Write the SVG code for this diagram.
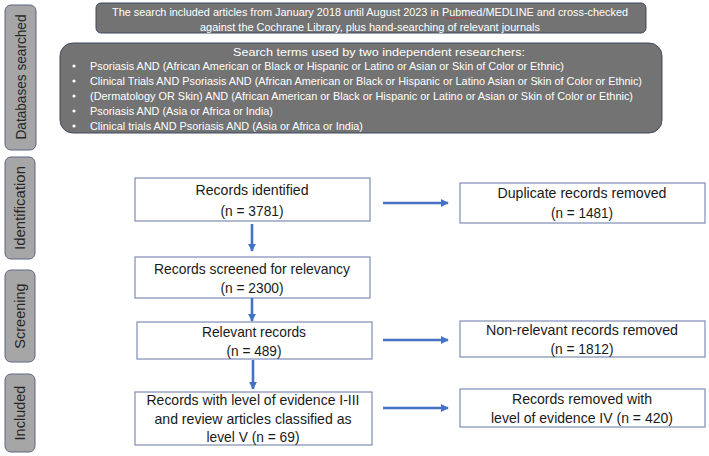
<svg xmlns="http://www.w3.org/2000/svg" width="709" height="456" viewBox="0 0 709 456">
<defs>
<marker id="ah" viewBox="0 0 10 10" refX="9" refY="5" markerWidth="3.2" markerHeight="3.2" orient="auto" markerUnits="strokeWidth">
<path d="M0,0 L10,5 L0,10 z" fill="#4472c4"/>
</marker>
<style>
.side{fill:#a6a6a6;stroke:#5a6780;stroke-width:1}
.sidet{font-family:"Liberation Sans",Arial,sans-serif;font-size:14.5px;fill:#262626;text-anchor:middle}
.dark{fill:#737373;stroke:#3f4b60;stroke-width:1}
.wt{font-family:"Liberation Sans",Arial,sans-serif;font-size:11.5px;fill:#ffffff}
.box{fill:#ffffff;stroke:#7f8db5;stroke-width:1.2}
.bt{font-family:"Liberation Sans",Arial,sans-serif;font-size:14.5px;fill:#1a1a1a;text-anchor:middle}
.arr{stroke:#4472c4;stroke-width:2.6;fill:none;marker-end:url(#ah)}
</style>
</defs>
<rect width="709" height="456" fill="#ffffff"/>

<g id="lbl-databases"><rect class="side" x="5" y="5" width="31" height="145" rx="6"/><text class="sidet" transform="translate(25.5,77) rotate(-90)" textLength="125" lengthAdjust="spacingAndGlyphs">Databases searched</text></g>
<g id="lbl-identification"><rect class="side" x="5" y="157" width="30" height="102" rx="6"/><text class="sidet" transform="translate(25,208) rotate(-90)" textLength="84" lengthAdjust="spacingAndGlyphs">Identification</text></g>
<g id="lbl-screening"><rect class="side" x="5" y="270" width="30" height="92" rx="6"/><text class="sidet" transform="translate(25,316) rotate(-90)">Screening</text></g>
<g id="lbl-included"><rect class="side" x="5" y="374" width="30" height="78" rx="6"/><text class="sidet" transform="translate(25,413) rotate(-90)">Included</text></g>

<g id="search-info">
<rect class="dark" x="96" y="3" width="550" height="30" rx="5"/>
<text class="wt" x="112" y="16" textLength="516" lengthAdjust="spacingAndGlyphs">The search included articles from January 2018 until August 2023 in Pubmed/MEDLINE and cross-checked</text>
<text class="wt" x="200" y="31" textLength="340" lengthAdjust="spacingAndGlyphs">against the Cochrane Library, plus hand-searching of relevant journals</text>
<path d="M446,18.5 l1.5,-1 l1.5,1 l1.5,-1 l1.5,1 l1.5,-1 l1.5,1 l1.5,-1 l1.5,1 l1.5,-1 l1.5,1 l1.5,-1 l1.5,1 l1.5,-1 l1.5,1 l1.5,-1 l1.5,1 l1.5,-1" fill="none" stroke="#d03030" stroke-width="0.8"/>
</g>

<g id="search-terms">
<rect class="dark" x="60" y="43" width="602" height="90" rx="13"/>
<text class="wt" x="233" y="56" textLength="292" lengthAdjust="spacingAndGlyphs">Search terms used by two independent researchers:</text>
<g fill="#ffffff"><circle cx="74" cy="66" r="1.6"/><circle cx="74" cy="81" r="1.6"/><circle cx="74" cy="96" r="1.6"/><circle cx="74" cy="111" r="1.6"/><circle cx="74" cy="126" r="1.6"/></g>
<text class="wt" x="90" y="69.5" textLength="474" lengthAdjust="spacingAndGlyphs">Psoriasis AND (African American or Black or Hispanic or Latino or Asian or Skin of Color or Ethnic)</text>
<text class="wt" x="90" y="84.5" textLength="552" lengthAdjust="spacingAndGlyphs">Clinical Trials AND Psoriasis AND (African American or Black or Hispanic or Latino Asian or Skin of Color or Ethnic)</text>
<text class="wt" x="90" y="99.5" textLength="543" lengthAdjust="spacingAndGlyphs">(Dermatology OR Skin) AND (African American or Black or Hispanic or Latino or Asian or Skin of Color or Ethnic)</text>
<text class="wt" x="90" y="114.5" textLength="183" lengthAdjust="spacingAndGlyphs">Psoriasis AND (Asia or Africa or India)</text>
<text class="wt" x="90" y="129.5" textLength="273" lengthAdjust="spacingAndGlyphs">Clinical trials AND Psoriasis AND (Asia or Africa or India)</text>
</g>

<g id="identified"><rect class="box" x="135" y="178" width="235" height="43"/><text class="bt" x="252" y="195" textLength="113" lengthAdjust="spacingAndGlyphs">Records identified</text><text class="bt" x="252" y="216" textLength="63" lengthAdjust="spacingAndGlyphs">(n = 3781)</text></g>
<g id="duplicates"><rect class="box" x="460" y="183" width="245" height="40"/><text class="bt" x="582" y="198" textLength="169" lengthAdjust="spacingAndGlyphs">Duplicate records removed</text><text class="bt" x="582" y="218" textLength="62" lengthAdjust="spacingAndGlyphs">(n = 1481)</text></g>
<g id="screened"><rect class="box" x="135" y="257" width="235" height="41"/><text class="bt" x="252" y="274" textLength="196" lengthAdjust="spacingAndGlyphs">Records screened for relevancy</text><text class="bt" x="252" y="293" textLength="63" lengthAdjust="spacingAndGlyphs">(n = 2300)</text></g>
<g id="relevant"><rect class="box" x="137" y="322" width="235" height="37"/><text class="bt" x="254" y="337" textLength="104" lengthAdjust="spacingAndGlyphs">Relevant records</text><text class="bt" x="254" y="356" textLength="55" lengthAdjust="spacingAndGlyphs">(n = 489)</text></g>
<g id="nonrelevant"><rect class="box" x="460" y="321" width="245" height="36"/><text class="bt" x="582" y="335" textLength="192" lengthAdjust="spacingAndGlyphs">Non-relevant records removed</text><text class="bt" x="582" y="354" textLength="63" lengthAdjust="spacingAndGlyphs">(n = 1812)</text></g>
<g id="included"><rect class="box" x="135" y="392" width="237" height="53"/><text class="bt" x="253" y="405" textLength="213" lengthAdjust="spacingAndGlyphs">Records with level of evidence I-III</text><text class="bt" x="253" y="424" textLength="197" lengthAdjust="spacingAndGlyphs">and review articles classified as</text><text class="bt" x="253" y="442" textLength="93" lengthAdjust="spacingAndGlyphs">level V (n = 69)</text></g>
<g id="removed-iv"><rect class="box" x="460" y="389" width="245" height="38"/><text class="bt" x="582" y="404" textLength="140" lengthAdjust="spacingAndGlyphs">Records removed with</text><text class="bt" x="582" y="423" textLength="182" lengthAdjust="spacingAndGlyphs">level of evidence IV (n = 420)</text></g>

<g id="connectors">
<line class="arr" x1="252" y1="224" x2="252" y2="251"/>
<line class="arr" x1="252" y1="298" x2="252" y2="321"/>
<line class="arr" x1="253" y1="360" x2="253" y2="389"/>
<line class="arr" x1="383" y1="203" x2="448" y2="203"/>
<line class="arr" x1="383" y1="340" x2="448" y2="340"/>
<line class="arr" x1="383" y1="408" x2="448" y2="408"/>
</g>
</svg>
